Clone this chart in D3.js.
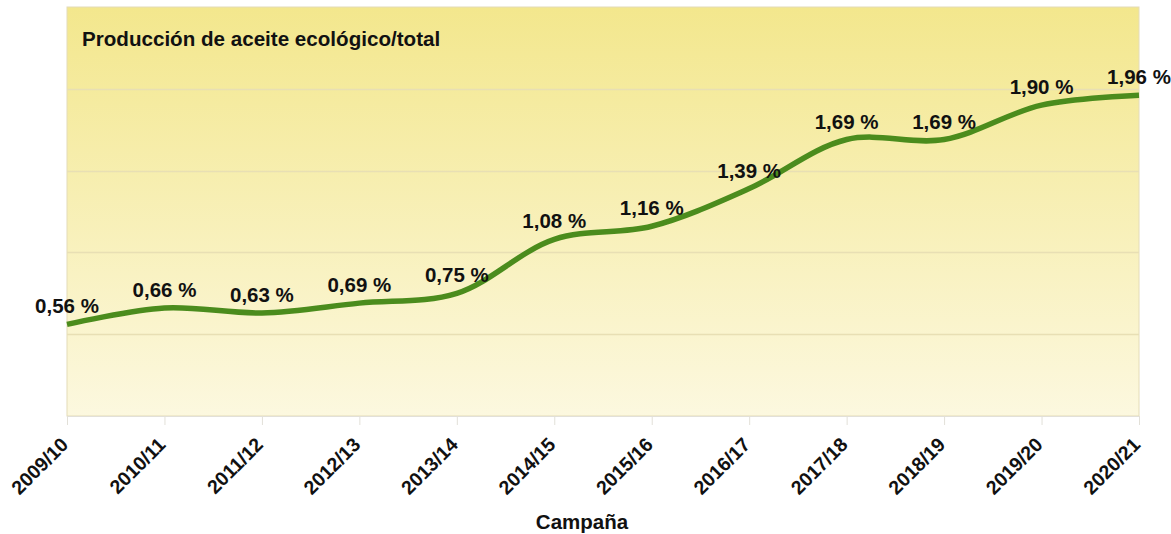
<!DOCTYPE html>
<html>
<head>
<meta charset="utf-8">
<script src="https://cdn.jsdelivr.net/npm/d3@7"></script>
<style>
  body { margin: 0; background: #fff; }
  text { font-family: "Liberation Sans", Arial, sans-serif; font-weight: bold; fill: #111; }
</style>
</head>
<body>
<svg id="chart" width="1171" height="534"></svg>
<script>
// campañas y porcentaje de aceite ecológico sobre el total
var campaigns = ["2009/10", "2010/11", "2011/12", "2012/13", "2013/14", "2014/15",
                 "2015/16", "2016/17", "2017/18", "2018/19", "2019/20", "2020/21"];
var shares = [0.56, 0.66, 0.63, 0.69, 0.75, 1.08, 1.16, 1.39, 1.69, 1.69, 1.90, 1.96];
var gridTicks = [0.5, 1, 1.5, 2];

var margin = {top: 7, right: 32, bottom: 118, left: 67};
var width = 1171 - margin.left - margin.right,
    height = 534 - margin.top - margin.bottom;

var svg = d3.select("#chart");

// background gradient
var defs = svg.append("defs");
var grad = defs.append("linearGradient")
    .attr("id", "bg")
    .attr("x1", 0).attr("y1", 0).attr("x2", 0).attr("y2", 1);
grad.append("stop").attr("offset", "0%").attr("stop-color", "#f3e78d");
grad.append("stop").attr("offset", "100%").attr("stop-color", "#fcf8df");

var g = svg.append("g")
    .attr("transform", "translate(" + margin.left + "," + margin.top + ")");

var x = d3.scalePoint()
    .domain(campaigns)
    .range([0, width]);

var y = d3.scaleLinear()
    .domain([0, 2.5])
    .range([height, 0]);

g.append("rect")
    .attr("width", width)
    .attr("height", height)
    .attr("fill", "url(#bg)")
    .attr("stroke", "#e4dcb8")
    .attr("stroke-width", 1);

// horizontal gridlines
g.selectAll(".grid")
    .data(gridTicks)
  .enter().append("line")
    .attr("class", "grid")
    .attr("x1", 0)
    .attr("x2", width)
    .attr("y1", function(d) { return Math.round(y(d)) + 0.5; })
    .attr("y2", function(d) { return Math.round(y(d)) + 0.5; })
    .attr("stroke", "#e8dfb4")
    .attr("stroke-width", 1.5);

// x axis
var xAxis = g.append("g")
    .attr("transform", "translate(0," + height + ")")
    .call(d3.axisBottom(x).tickSize(9));

xAxis.select(".domain").attr("stroke", "#e2e0d8");
xAxis.selectAll(".tick line").attr("stroke", "#e2e0d8");
xAxis.selectAll(".tick text")
    .style("font-size", "19.5px")
    .attr("text-anchor", "end")
    .attr("x", 0)
    .attr("y", 0)
    .attr("dy", "0.35em")
    .attr("transform", "translate(-3,25) rotate(-45)");

// line
var line = d3.line()
    .x(function(d, i) { return x(campaigns[i]); })
    .y(function(d) { return y(d); })
    .curve(d3.curveCatmullRom.alpha(0.5));

g.append("path")
    .datum(shares)
    .attr("fill", "none")
    .attr("stroke", "#4b8c1d")
    .attr("stroke-width", 5.5)
    .attr("d", line);

// value labels
g.selectAll(".val")
    .data(shares)
  .enter().append("text")
    .attr("class", "val")
    .attr("x", function(d, i) { return x(campaigns[i]); })
    .attr("y", function(d) { return y(d) - 11; })
    .attr("text-anchor", "middle")
    .style("font-size", "20.5px")
    .text(function(d) { return d.toFixed(2).replace(".", ",") + " %"; });

// title
g.append("text")
    .attr("x", 15)
    .attr("y", 39)
    .style("font-size", "20.6px")
    .text("Producción de aceite ecológico/total");

// axis title
svg.append("text")
    .attr("x", 582)
    .attr("y", 529)
    .attr("text-anchor", "middle")
    .style("font-size", "20.5px")
    .text("Campaña");
</script>
</body>
</html>
